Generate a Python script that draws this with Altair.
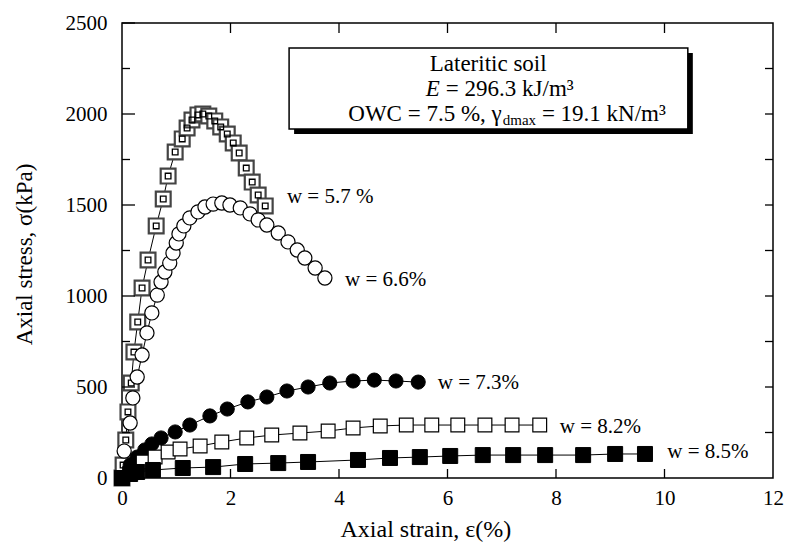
import altair as alt
import pandas as pd

# ---- data ----
strain_57 = [0.0, 0.02, 0.07, 0.11, 0.17, 0.22, 0.29, 0.37, 0.48, 0.63, 0.76, 0.85, 0.98, 1.11,
             1.20, 1.29, 1.40, 1.49, 1.60, 1.71, 1.82, 1.94, 2.05, 2.16, 2.29, 2.40, 2.51, 2.64]
stress_57 = [0, 71, 209, 363, 522, 692, 857, 1044, 1198, 1385, 1533, 1659, 1791, 1863,
             1923, 1967, 1995, 2000, 1989, 1962, 1929, 1890, 1841, 1786, 1703, 1626, 1555, 1495]

strain_66 = [0.0, 0.04, 0.15, 0.20, 0.28, 0.37, 0.46, 0.55, 0.65, 0.72, 0.79, 0.88, 0.94, 1.00,
             1.05, 1.14, 1.25, 1.40, 1.53, 1.68, 1.84, 1.99, 2.18, 2.36, 2.51, 2.67, 2.88, 3.06,
             3.23, 3.37, 3.56, 3.74]
stress_66 = [0, 148, 302, 440, 555, 676, 797, 907, 1005, 1077, 1132, 1181, 1236, 1291,
             1341, 1385, 1429, 1462, 1489, 1505, 1511, 1500, 1484, 1451, 1418, 1390, 1346, 1297,
             1253, 1209, 1154, 1099]

strain_73 = [0.0, 0.15, 0.28, 0.42, 0.55, 0.72, 0.98, 1.25, 1.62, 1.94, 2.32, 2.67, 3.04, 3.43,
             3.83, 4.26, 4.65, 5.05, 5.46]
stress_73 = [0, 71, 115, 154, 187, 220, 253, 291, 341, 379, 418, 445, 478, 500,
             522, 533, 538, 533, 527]

strain_82 = [0.0, 0.39, 0.61, 0.85, 1.07, 1.44, 1.84, 2.30, 2.76, 3.28, 3.80, 4.26, 4.76, 5.24,
             5.71, 6.19, 6.69, 7.19, 7.70]
stress_82 = [0, 88, 115, 143, 159, 176, 198, 220, 236, 247, 258, 275, 286, 291,
             291, 291, 291, 291, 291]

strain_85 = [0.0, 0.15, 0.28, 0.57, 1.12, 1.68, 2.27, 2.88, 3.43, 4.35, 4.94, 5.49, 6.05, 6.65,
             7.21, 7.80, 8.50, 9.09, 9.64]
stress_85 = [0, 22, 33, 44, 55, 60, 77, 82, 88, 99, 110, 115, 121, 126,
             126, 126, 126, 132, 132]

series_names = ["w = 5.7 %", "w = 6.6%", "w = 7.3%", "w = 8.2%", "w = 8.5%"]
label_x = [3.04, 4.11, 5.82, 8.07, 10.05]
label_y = [1544, 1088, 522, 280, 143]

x_ticks = [0, 2, 4, 6, 8, 10, 12]
y_ticks = [0, 500, 1000, 1500, 2000, 2500]
y_minor = [250, 750, 1250, 1750, 2250]
y_right = [250, 500, 750, 1000, 1250, 1500, 1750, 2000, 2250]
x_inner = [2, 4, 6, 8, 10]

box_x, box_x2, box_y, box_y2 = 3.08, 10.43, 2363, 1918

FONT = "Liberation Serif"

frames = []
for name, xs, ys in zip(series_names,
                        [strain_57, strain_66, strain_73, strain_82, strain_85],
                        [stress_57, stress_66, stress_73, stress_82, stress_85]):
    frames.append(pd.DataFrame({"x": xs, "y": ys, "series": name}))
df = pd.concat(frames, ignore_index=True)

X = alt.X("x:Q", scale=alt.Scale(domain=[0, 12], nice=False, zero=False),
          axis=alt.Axis(values=x_ticks, format="d", ticks=False, domain=False, grid=False,
                        labelFont=FONT, labelFontSize=21, labelColor="black",
                        labelPadding=9, labelFlush=False, labelOverlap=False,
                        title="Axial strain,  ε(%)", titleFont=FONT, titleFontSize=24,
                        titleFontWeight="normal", titleColor="black",
                        titleX=218, titleY=51, titleAlign="left", titleBaseline="middle"))
Y = alt.Y("y:Q", scale=alt.Scale(domain=[0, 2500], nice=False, zero=False),
          axis=alt.Axis(values=y_ticks, format="d", ticks=False, domain=False, grid=False,
                        labelFont=FONT, labelFontSize=21, labelColor="black",
                        labelPadding=15, labelFlush=False, labelOverlap=False,
                        title="Axial stress, σ(kPa)", titleFont=FONT, titleFontSize=23,
                        titleFontWeight="normal", titleColor="black",
                        titleX=-98, titleY=231, titleAngle=-90,
                        titleAlign="center", titleBaseline="middle"))

base = alt.Chart(df)

lines = base.mark_line(color="black", strokeWidth=1).encode(x=X, y=Y, detail="series:N")

def pts(name):
    return base.transform_filter(alt.datum.series == name)

m57_outer = pts(series_names[0]).mark_point(shape="square", size=220, filled=True, fill="white",
                                             stroke="#444444", strokeWidth=2.2, opacity=1).encode(x=X, y=Y)
m57_inner = pts(series_names[0]).mark_point(shape="square", size=32, filled=False,
                                             stroke="black", strokeWidth=1.3, opacity=1).encode(x=X, y=Y)
m66 = pts(series_names[1]).mark_point(shape="circle", size=200, filled=True, fill="white",
                                      stroke="black", strokeWidth=1.2, opacity=1).encode(x=X, y=Y)
m73 = pts(series_names[2]).mark_point(shape="circle", size=200, filled=True, fill="black",
                                      stroke="black", strokeWidth=1, opacity=1).encode(x=X, y=Y)
m82 = pts(series_names[3]).mark_point(shape="square", size=190, filled=True, fill="white",
                                      stroke="black", strokeWidth=1.2, opacity=1).encode(x=X, y=Y)
m85 = pts(series_names[4]).mark_point(shape="square", size=225, filled=True, fill="black",
                                      stroke="black", strokeWidth=1, opacity=1).encode(x=X, y=Y)

labels_df = pd.DataFrame({"x": label_x, "y": label_y, "t": series_names})
labels = alt.Chart(labels_df).mark_text(font=FONT, fontSize=21, align="left", baseline="middle",
                                        color="black").encode(x=X, y=Y, text="t:N")

# tick marks drawn inward on all four sides
left_major = alt.Chart(pd.DataFrame({"y": y_ticks})).mark_rule(color="black", strokeWidth=1.3).encode(
    y=Y, x=alt.value(0), x2=alt.value(13))
left_minor = alt.Chart(pd.DataFrame({"y": y_minor})).mark_rule(color="black", strokeWidth=1.3).encode(
    y=Y, x=alt.value(0), x2=alt.value(8))
right_t = alt.Chart(pd.DataFrame({"y": y_right})).mark_rule(color="black", strokeWidth=1.3).encode(
    y=Y, x=alt.value(643), x2=alt.value(651))
bottom_t = alt.Chart(pd.DataFrame({"x": x_inner})).mark_rule(color="black", strokeWidth=1.3).encode(
    x=X, y=alt.value(446), y2=alt.value(455))
top_t = alt.Chart(pd.DataFrame({"x": x_inner})).mark_rule(color="black", strokeWidth=1.3).encode(
    x=X, y=alt.value(0), y2=alt.value(10))

# annotation box with drop shadow
box_df = pd.DataFrame({"x": [box_x], "x2": [box_x2], "y": [box_y], "y2": [box_y2]})
shadow = alt.Chart(box_df).mark_rect(color="black", xOffset=5, x2Offset=5, yOffset=5, y2Offset=5).encode(
    x=X, x2="x2:Q", y=Y, y2="y2:Q")
box = alt.Chart(box_df).mark_rect(fill="white", stroke="black", strokeWidth=1.5).encode(
    x=X, x2="x2:Q", y=Y, y2="y2:Q")

BOXFS = 23
line1 = pd.DataFrame({"x": [6.75], "y": [2275], "t": ["Lateritic soil"]})
t1 = alt.Chart(line1).mark_text(font=FONT, fontSize=BOXFS, align="center", baseline="middle",
                                color="black").encode(x=X, y=Y, text="t:N")
e_df = pd.DataFrame({"x": [5.60], "y": [2137], "t": ["E"]})
t2a = alt.Chart(e_df).mark_text(font=FONT, fontSize=BOXFS, fontStyle="italic", align="left",
                                baseline="middle", color="black").encode(x=X, y=Y, text="t:N")
e2_df = pd.DataFrame({"x": [5.97], "y": [2137], "t": ["= 296.3 kJ/m³"]})
t2b = alt.Chart(e2_df).mark_text(font=FONT, fontSize=BOXFS, align="left", baseline="middle",
                                 color="black").encode(x=X, y=Y, text="t:N")
l3a = pd.DataFrame({"x": [7.00], "y": [2000], "t": ["OWC = 7.5 %, γ"]})
t3a = alt.Chart(l3a).mark_text(font=FONT, fontSize=BOXFS, align="right", baseline="middle",
                               color="black").encode(x=X, y=Y, text="t:N")
l3b = pd.DataFrame({"x": [7.00], "y": [2000], "t": ["dmax"]})
t3b = alt.Chart(l3b).mark_text(font=FONT, fontSize=15, align="left", baseline="middle", dx=1, dy=6,
                               color="black").encode(x=X, y=Y, text="t:N")
l3c = pd.DataFrame({"x": [7.74], "y": [2000], "t": ["= 19.1 kN/m³"]})
t3c = alt.Chart(l3c).mark_text(font=FONT, fontSize=BOXFS, align="left", baseline="middle",
                               color="black").encode(x=X, y=Y, text="t:N")

chart = alt.layer(
    lines, m57_outer, m57_inner, m66, m73, m82, m85, labels,
    left_major, left_minor, right_t, bottom_t, top_t,
    shadow, box, t1, t2a, t2b, t3a, t3b, t3c
).properties(
    width=651, height=455,
    autosize=alt.AutoSizeParams(type="none"),
    padding={"left": 122, "top": 23, "right": 12, "bottom": 71},
    background="white"
).configure_view(stroke="black", strokeWidth=1.5)

chart.save("out.html", embed_options={"renderer": "svg", "actions": False})
